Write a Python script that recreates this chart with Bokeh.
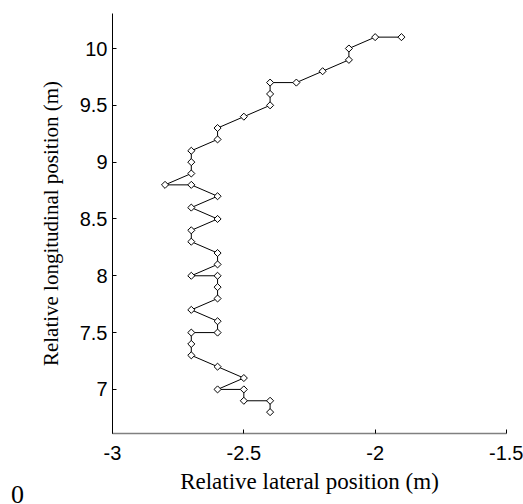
import math
from bokeh.plotting import figure
from bokeh.models import Range1d, FixedTicker, Div
from bokeh.layouts import row
from bokeh.embed import file_html
from bokeh.resources import INLINE

lateral = [-2.4, -2.4, -2.5, -2.5, -2.6, -2.5, -2.6, -2.7, -2.7, -2.7, -2.6,
           -2.6, -2.7, -2.6, -2.6, -2.6, -2.7, -2.6, -2.6, -2.7, -2.7, -2.6,
           -2.7, -2.6, -2.7, -2.8, -2.7, -2.7, -2.7, -2.6, -2.6, -2.5, -2.4,
           -2.4, -2.4, -2.3, -2.2, -2.1, -2.1, -2.0, -1.9]
longitudinal = [6.8, 6.9, 6.9, 7.0, 7.0, 7.1, 7.2, 7.3, 7.4, 7.5, 7.5,
                7.6, 7.7, 7.8, 7.9, 8.0, 8.0, 8.1, 8.2, 8.3, 8.4, 8.5,
                8.6, 8.7, 8.8, 8.8, 8.9, 9.0, 9.1, 9.2, 9.3, 9.4, 9.5,
                9.6, 9.7, 9.7, 9.8, 9.9, 10.0, 10.1, 10.1]
x_ticks = [-3, -2.5, -2, -1.5]
y_ticks = [7, 7.5, 8, 8.5, 9, 9.5, 10]

p = figure(width=493, height=504, output_backend="svg", toolbar_location=None,
           x_range=Range1d(-3, -1.5), y_range=Range1d(6.612, 10.308),
           min_border_left=82, min_border_right=17, min_border_top=13,
           min_border_bottom=71, margin=(0, 0, 0, 0))
p.outline_line_color = None
p.grid.visible = False
p.background_fill_color = "white"
p.border_fill_color = "white"

p.line(lateral, longitudinal, line_color="black", line_width=1)
p.scatter(lateral, longitudinal, marker="square", angle=math.pi / 4, size=5,
          fill_color="white", line_color="black", line_width=1)

for ax in (p.xaxis[0], p.yaxis[0]):
    ax.major_tick_in = 4
    ax.major_tick_out = 0
    ax.minor_tick_in = 0
    ax.minor_tick_out = 0
    ax.major_label_text_font = "Liberation Sans"
    ax.major_label_text_font_size = "20px"
    ax.major_label_text_color = "black"
    ax.axis_label_text_font = "Liberation Serif"
    ax.axis_label_text_font_style = "normal"
    ax.axis_label_text_color = "black"
    ax.major_tick_line_color = "black"

p.xaxis[0].axis_label_text_font_size = "23px"
p.yaxis[0].axis_label_text_font_size = "21px"
p.xaxis[0].ticker = FixedTicker(ticks=x_ticks)
p.yaxis[0].ticker = FixedTicker(ticks=y_ticks)
p.xaxis[0].major_label_overrides = {-3: "-3", -2.5: "-2.5", -2: "-2", -1.5: "-1.5"}
p.yaxis[0].major_label_overrides = {7: "7", 7.5: "7.5", 8: "8", 8.5: "8.5",
                                    9: "9", 9.5: "9.5", 10: "10"}
p.xaxis[0].axis_label = "Relative lateral position (m)"
p.yaxis[0].axis_label = "Relative longitudinal position (m)"
p.xaxis[0].axis_line_color = "#808080"
p.xaxis[0].axis_line_width = 1.5
p.yaxis[0].axis_line_color = "black"
p.xaxis[0].major_label_standoff = 12
p.yaxis[0].major_label_standoff = 5
p.xaxis[0].axis_label_standoff = 6
p.yaxis[0].axis_label_standoff = 14

stray = Div(text='<div style="position:absolute; left:11px; top:482px; '
                 'font-family:\'Liberation Serif\'; font-size:26px; '
                 'line-height:26px; color:black;">0</div>',
            width=30, height=504, margin=(0, 0, 0, 0),
            styles={"overflow": "hidden", "padding": "0px"})

layout = row(stray, p, spacing=0, margin=(0, 0, 0, 0))
open("out.html", "w").write(file_html(layout, INLINE))
